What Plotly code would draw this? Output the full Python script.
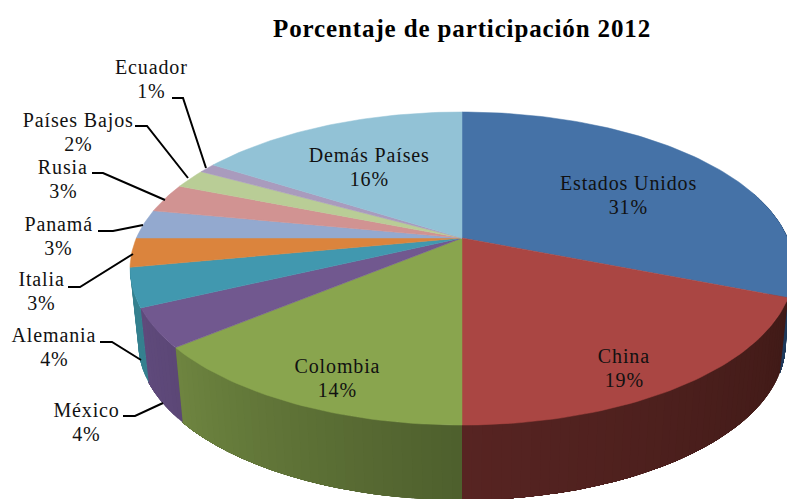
import math
import plotly.graph_objects as go

# ---- data ----
categories = ["Estados Unidos", "China", "Colombia", "México", "Alemania", "Italia",
              "Panamá", "Rusia", "Países Bajos", "Ecuador", "Demás Países"]
values = [31, 19, 14, 4, 4, 3, 3, 3, 2, 1, 16]
title_text = "Porcentaje de participación 2012"

# ---- styles ----
top_colors = ["#4572A7", "#AA4643", "#89A54E", "#71588F", "#4198AF", "#DB843D",
              "#93A9CF", "#D19392", "#B9CD96", "#A99BBD", "#92C2D6"]
wall_start = ["#1F3A5C", "#401A17", "#4E5F2D", "#5C4776", "#35808F", "#B06A30",
              "#7587A6", "#A77675", "#94A478", "#877C97", "#7CA3B3"]
wall_end = ["#1F3A5C", "#572422", "#6E8540", "#5F4A7C", "#35808F", "#B06A30",
            "#7587A6", "#A77675", "#94A478", "#877C97", "#7CA3B3"]
label_pos = {"Estados Unidos": (628, 195), "China": (624, 368), "Colombia": (337, 378),
             "México": (86, 422), "Alemania": (54, 347), "Italia": (41, 291),
             "Panamá": (58, 236), "Rusia": (63, 179), "Países Bajos": (78, 132),
             "Ecuador": (151, 79), "Demás Países": (369, 167)}
leaders = {"Ecuador": ([172, 183, 206], [98, 98, 168]),
           "Países Bajos": ([135, 147, 188], [126, 126, 178]),
           "Rusia": ([92, 103, 165], [173, 173, 200]),
           "Panamá": ([98, 113, 143], [231, 231, 225]),
           "Italia": ([68, 80, 133], [287, 287, 254]),
           "Alemania": ([100, 112, 141], [342, 342, 360]),
           "México": ([123, 135, 163], [416, 416, 403])}

# ---- tilted-pie projection ----
CX, CY, A, K, B = 462, 238, 325.6, 150.6, 0.195
DROP, SCALE = 75, 0.975


def top_pt(pct):
    t = 2 * math.pi * pct / 100
    u, v = math.sin(t), math.cos(t)
    d = 1 + B * v
    return CX + A * u / d, CY - K * v / d


def low_pt(pct):
    x, y = top_pt(pct)
    return CX + (x - CX) * SCALE, y + DROP


def mix(c1, c2, f):
    a = [int(c1[i:i + 2], 16) for i in (1, 3, 5)]
    b = [int(c2[i:i + 2], 16) for i in (1, 3, 5)]
    return "rgb(%d,%d,%d)" % tuple(round(p + (q - p) * f) for p, q in zip(a, b))


fig = go.Figure()

starts = [sum(values[:i]) for i in range(len(values))]

# side wall: each strip runs to the slice's far end and the next one paints over it
STEP = 0.4
for i, (s, val) in enumerate(zip(starts, values)):
    a, b = max(s, 20), min(s + val, 72)
    if b <= a:
        continue
    n = max(1, round((b - a) / STEP))
    for k in range(n):
        p0 = a + (b - a) * k / n
        m = max(1, (n - k) // 2)
        arc = [p0 + (b - p0) * j / m for j in range(m + 1)]
        tp = [top_pt(p) for p in arc]
        lw = [low_pt(p) for p in reversed(arc)]
        color = mix(wall_start[i], wall_end[i], (k + 0.5) / n)
        pts = tp + lw + tp[:1]
        fig.add_trace(go.Scatter(x=[q[0] for q in pts], y=[q[1] for q in pts], mode="lines",
                                 fill="toself", fillcolor=color, line=dict(width=0),
                                 hoverinfo="skip", showlegend=False))

# top face
for i, (s, val) in enumerate(zip(starts, values)):
    n = max(2, val * 3)
    pts = [top_pt(s + val * k / n) for k in range(n + 1)]
    xs = [CX] + [q[0] for q in pts] + [CX]
    ys = [CY] + [q[1] for q in pts] + [CY]
    fig.add_trace(go.Scatter(x=xs, y=ys, mode="lines", fill="toself", fillcolor=top_colors[i],
                             line=dict(color=top_colors[i], width=0.5), hoverinfo="skip",
                             showlegend=False))

# leader lines
for name, (lx, ly) in leaders.items():
    fig.add_trace(go.Scatter(x=lx, y=ly, mode="lines", line=dict(color="black", width=2),
                             hoverinfo="skip", showlegend=False))

# labels
LABEL_FONT = dict(family="Liberation Serif", size=20, color="#111111")
for name, val in zip(categories, values):
    x, y = label_pos[name]
    fig.add_annotation(x=x, y=y - 12, text=name, showarrow=False,
                       xanchor="center", yanchor="middle", font=LABEL_FONT)
    fig.add_annotation(x=x, y=y + 12, text=f"{val}%", showarrow=False,
                       xanchor="center", yanchor="middle", font=LABEL_FONT)

fig.add_annotation(x=462, y=28, text=f"<b>{title_text}</b>", showarrow=False,
                   xanchor="center", yanchor="middle",
                   font=dict(family="Liberation Serif", size=25, color="black"))

fig.update_layout(width=787, height=499, margin=dict(l=0, r=0, t=0, b=0),
                  paper_bgcolor="white", plot_bgcolor="white", showlegend=False,
                  xaxis=dict(range=[0, 787], visible=False, fixedrange=True),
                  yaxis=dict(range=[499, 0], visible=False, fixedrange=True))
page_css = ("var s=document.createElement('style');"
            "s.textContent='html,body{margin:0;padding:0;overflow:hidden}"
            ".annotation-text{letter-spacing:0.87px}';"
            "document.head.appendChild(s);")
fig.write_html("out.html", config=dict(displayModeBar=False), post_script=page_css)
